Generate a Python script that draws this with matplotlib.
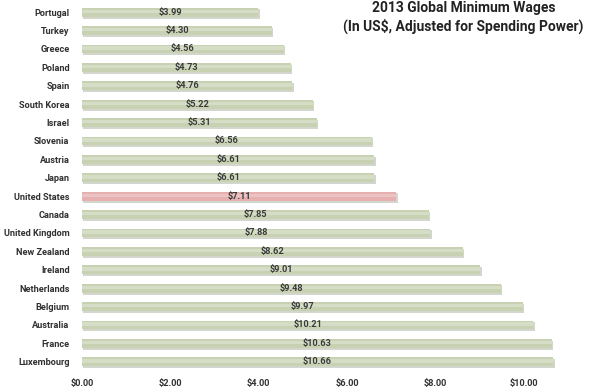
import matplotlib.pyplot as plt
from matplotlib.ticker import FuncFormatter

countries = ["Portugal", "Turkey", "Greece", "Poland", "Spain", "South Korea",
             "Israel", "Slovenia", "Austria", "Japan", "United States", "Canada",
             "United Kingdom", "New Zealand", "Ireland", "Netherlands", "Belgium",
             "Australia", "France", "Luxembourg"]
wages = [3.99, 4.30, 4.56, 4.73, 4.76, 5.22, 5.31, 6.56, 6.61, 6.61, 7.11, 7.85,
         7.88, 8.62, 9.01, 9.48, 9.97, 10.21, 10.63, 10.66]
ticks = [0, 2, 4, 6, 8, 10]

plt.rcParams["font.family"] = ["Roboto", "DejaVu Sans"]

green = "#c8d2b3"
pink = "#e6b0b0"
colors = [pink if c == "United States" else green for c in countries]

fig = plt.figure(figsize=(5.89, 3.89), dpi=100)
ax = fig.add_axes([82 / 589, 1 - 371 / 389, 1 - 82 / 589, 368 / 389])

ypos = list(range(len(countries)))
# soft shadow under each bar
ax.barh([y + 0.1 for y in ypos], wages, height=0.5, left=0.03,
        color="#a8ae9c", alpha=0.5, zorder=1)
ax.barh(ypos, wages, height=0.48, color=colors, zorder=2)
# lighter highlight band
ax.barh([y - 0.05 for y in ypos], wages, height=0.18, color="white",
        alpha=0.25, zorder=3)

for y, w in zip(ypos, wages):
    ax.text(w / 2, y, "$%.2f" % w, ha="center", va="center", fontsize=6.6,
            fontweight="bold", color="#3a3a3a", zorder=4)

ax.set_xlim(0, 11.47)
ax.set_ylim(len(countries) - 0.5, -0.5)
ax.set_yticks(ypos)
ax.set_yticklabels(countries, fontsize=6.6, fontweight="bold", color="#303030")
ax.set_xticks(ticks)
ax.xaxis.set_major_formatter(FuncFormatter(lambda v, p: "$%.2f" % v))
for lab in ax.get_xticklabels():
    lab.set_fontsize(6.6)
    lab.set_fontweight("bold")
    lab.set_color("#303030")
ax.tick_params(length=0, pad=6)
ax.tick_params(axis="y", pad=9)
for s in ax.spines.values():
    s.set_visible(False)

fig.text(0.787, 0.955, "2013 Global Minimum Wages\n(In US$, Adjusted for Spending Power)",
         ha="center", va="center", fontsize=10, fontweight="bold",
         color="#222222", linespacing=1.25)

fig.savefig("out.png", dpi=100)
